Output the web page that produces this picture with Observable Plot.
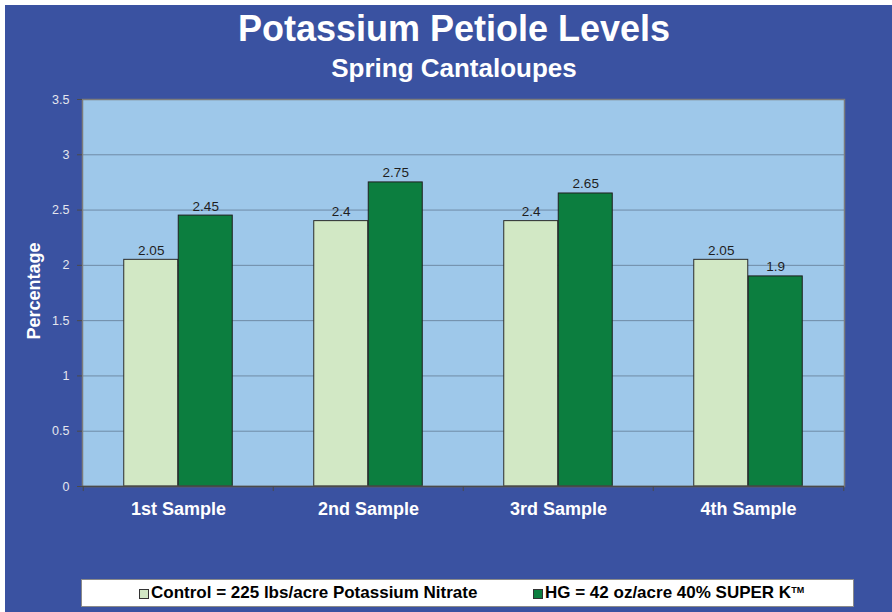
<!DOCTYPE html>
<html>
<head>
<meta charset="utf-8">
<script src="https://cdn.jsdelivr.net/npm/d3@7"></script>
<script src="https://cdn.jsdelivr.net/npm/@observablehq/plot@0.6"></script>
<style>
  html, body { margin: 0; padding: 0; background: #ffffff; }
  body { width: 892px; height: 612px; overflow: hidden; position: relative;
         font-family: "Liberation Sans", Arial, Helvetica, sans-serif; }
  #bg { position: absolute; left: 5px; top: 5px; width: 887px; height: 607px; background: #3a52a1; }
  #title { position: absolute; left: 0; top: 11px; width: 908px; text-align: center; color: #fff;
           font-weight: bold; font-size: 36px; line-height: 1; }
  #subtitle { position: absolute; left: 0; top: 55px; width: 908px; text-align: center; color: #fff;
              font-weight: bold; font-size: 26px; line-height: 1; }
  #chart { position: absolute; left: 0; top: 90px; }
  #ylabel { position: absolute; left: -26px; top: 281px; width: 120px; height: 20px; line-height: 20px;
            text-align: center; color: #fff; font-weight: bold; font-size: 18px; transform: rotate(-90deg); }
  #legend { position: absolute; left: 81px; top: 579px; width: 771px; height: 26px; background: #fff;
            border: 1px solid #8a8a8a; }
  .sw { position: absolute; top: 9px; width: 8px; height: 8px; border: 1px solid #333; }
  .lt { position: absolute; top: 4px; font-size: 17px; font-weight: bold; color: #000; line-height: 18px; white-space: nowrap; }
  .lt sup { font-size: 9px; vertical-align: top; position: relative; top: -3px; }
</style>
</head>
<body>
<div id="bg"></div>
<div id="title">Potassium Petiole Levels</div>
<div id="subtitle">Spring Cantaloupes</div>
<div id="chart"></div>
<div id="ylabel">Percentage</div>
<div id="legend"></div>
<script>
const samples = ["1st Sample", "2nd Sample", "3rd Sample", "4th Sample"];
const controlValues = [2.05, 2.4, 2.4, 2.05];
const hgValues = [2.45, 2.75, 2.65, 1.9];
const yTicks = [0, 0.5, 1, 1.5, 2, 2.5, 3, 3.5];
const seriesNames = ["Control = 225 lbs/acre Potassium Nitrate", "HG = 42 oz/acre 40% SUPER K"];
const seriesColors = ["#d2e8c5", "#0c7e3f"];

const control = samples.map((s, i) => ({sample: s, value: controlValues[i]}));
const hg = samples.map((s, i) => ({sample: s, value: hgValues[i]}));

const W = 892, H = 440, mL = 82, mR = 48, mT = 9, mB = 44;
const step = (W - mL - mR) / samples.length;
const barW = 54.5;
const outer = (step - 2 * barW) / 2;

const chart = Plot.plot({
  width: W, height: H,
  marginLeft: mL, marginRight: mR, marginTop: mT, marginBottom: mB,
  style: {background: "transparent", fontFamily: "'Liberation Sans', Arial, sans-serif", overflow: "visible"},
  x: {domain: samples, padding: 0, axis: null},
  y: {domain: [0, 3.5], axis: null},
  marks: [
    Plot.frame({fill: "#9ec8ea"}),
    Plot.ruleY(yTicks, {stroke: "#6f8ba6", strokeWidth: 1}),
    Plot.barY(control, {x: "sample", y: "value", fill: seriesColors[0], stroke: "#2b2b2b", strokeWidth: 1,
      insetLeft: outer, insetRight: step / 2}),
    Plot.barY(hg, {x: "sample", y: "value", fill: seriesColors[1], stroke: "#1f1f1f", strokeWidth: 1,
      insetLeft: step / 2, insetRight: outer}),
    Plot.text(control, {x: "sample", y: "value", text: d => String(d.value), dx: -barW / 2, dy: -5,
      lineAnchor: "bottom", fontSize: 13.5, fill: "#1e1e1e"}),
    Plot.text(hg, {x: "sample", y: "value", text: d => String(d.value), dx: barW / 2, dy: -5,
      lineAnchor: "bottom", fontSize: 13.5, fill: "#1e1e1e"}),
    Plot.frame({stroke: "#7c7c7c", strokeWidth: 1.5}),
    Plot.ruleY([0], {stroke: "#4a4a4a", strokeWidth: 1.5}),
    Plot.ruleX(samples, {x: d => d, dx: -step / 2, y1: 0, y2: 0, insetBottom: -5, stroke: "#4a4a4a"}),
    Plot.ruleX(samples.slice(-1), {x: d => d, dx: step / 2, y1: 0, y2: 0, insetBottom: -5, stroke: "#4a4a4a"}),
    Plot.axisY(yTicks, {tickSize: 5, tickPadding: 8, fontSize: 12.5, label: null, tickFormat: d => String(d),
      stroke: "#4a4a4a", fill: "#e4e6ee"}),
    Plot.axisX(samples, {tickSize: 0, tickPadding: 16, fontSize: 18, fontWeight: "bold", label: null, fill: "#ffffff"})
  ]
});
document.getElementById("chart").appendChild(chart);

const legend = document.getElementById("legend");
const swX = [57, 451], txX = [69, 463];
seriesNames.forEach((name, i) => {
  const sw = document.createElement("div");
  sw.className = "sw";
  sw.style.left = swX[i] + "px";
  sw.style.background = seriesColors[i];
  legend.appendChild(sw);
  const t = document.createElement("div");
  t.className = "lt";
  t.style.left = txX[i] + "px";
  t.textContent = name;
  if (i === 1) {
    const s = document.createElement("sup");
    s.textContent = "TM";
    t.appendChild(s);
  }
  legend.appendChild(t);
});
</script>
</body>
</html>
